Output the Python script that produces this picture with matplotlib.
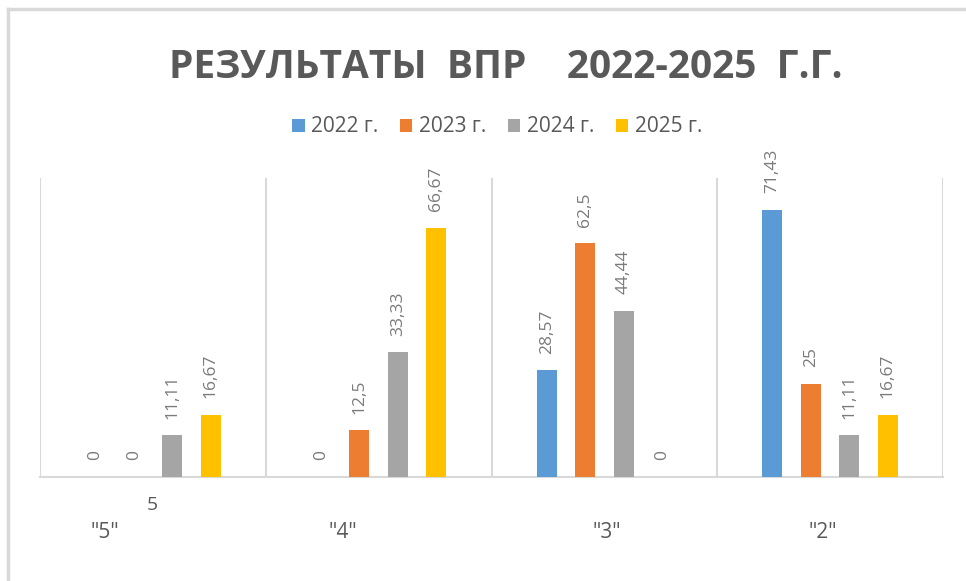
import matplotlib
matplotlib.use("Agg")
import matplotlib.pyplot as plt
from matplotlib.lines import Line2D
import numpy as np

# Данные диаграммы
categories = ['"5"', '"4"', '"3"', '"2"']
years = ["2022 г.", "2023 г.", "2024 г.", "2025 г."]
v2022 = [0, 0, 28.57, 71.43]
v2023 = [0, 12.5, 62.5, 25]
v2024 = [11.11, 33.33, 44.44, 11.11]
v2025 = [16.67, 66.67, 0, 16.67]
colors = ["#5B9BD5", "#ED7D31", "#A5A5A5", "#FFC000"]

plt.rcParams['font.family'] = ['Open Sans', 'DejaVu Sans']

fig = plt.figure(figsize=(9.66, 5.81), dpi=100)
ax = fig.add_axes([40/966, 1 - 477/581, (943 - 40)/966, (477 - 178)/581])

x = np.arange(len(categories))
step = 0.1705
width = 0.0886
series = [v2022, v2023, v2024, v2025]
for k, (vals, col, lab) in enumerate(zip(series, colors, years)):
    pos = x + (k - 1.5) * step
    bars = ax.bar(pos, vals, width, color=col, label=lab, zorder=3)
    for b, v in zip(bars, vals):
        txt = f"{v:g}".replace(".", ",")
        ax.annotate(txt, (b.get_x() + b.get_width()/2, v), xytext=(0, 12),
                    textcoords="offset points", rotation=90, ha="center", va="bottom",
                    fontsize=12.5, color="#7a7a7a")

ax.set_xlim(-0.5, 3.5)
ax.set_ylim(0, 80)
for s in ["top", "left", "right"]:
    ax.spines[s].set_visible(False)
ax.spines["bottom"].set_color("#d9d9d9")
ax.spines["bottom"].set_linewidth(1.5)
for b in np.arange(-0.5, 4, 1):
    ax.axvline(b, color="#d9d9d9", lw=1.5, zorder=1)
ax.set_xticks([])
ax.set_yticks([])

# подписи категорий
label_x = [105, 343, 607, 823]
for lx, c in zip(label_x, categories):
    fig.text(lx/966, 1 - 532/581, c, ha="center", va="center", fontsize=15, color="#595959")
fig.text(152/966, 1 - 505/581, "5", ha="center", va="center", fontsize=14, color="#595959")

fig.text(506/966, 1 - 67/581, "РЕЗУЛЬТАТЫ  ВПР    2022-2025  Г.Г.", ha="center", va="center",
         fontsize=28, fontweight="bold", color="#595959")

leg = fig.legend(loc="center", bbox_to_anchor=(497/966, 1 - 127/581), ncol=4, frameon=False,
                 fontsize=15, handlelength=0.6, handleheight=0.6, handletextpad=0.3,
                 columnspacing=1.05, labelcolor="#595959")

# рамка диаграммы
fig.add_artist(Line2D([8/966, 1.01], [1 - 9/581, 1 - 9/581], color="#d9d9d9", lw=2.5))
fig.add_artist(Line2D([8/966, 8/966], [1 - 9/581, -0.01], color="#d9d9d9", lw=2.5))

fig.savefig("out.png", dpi=100)
